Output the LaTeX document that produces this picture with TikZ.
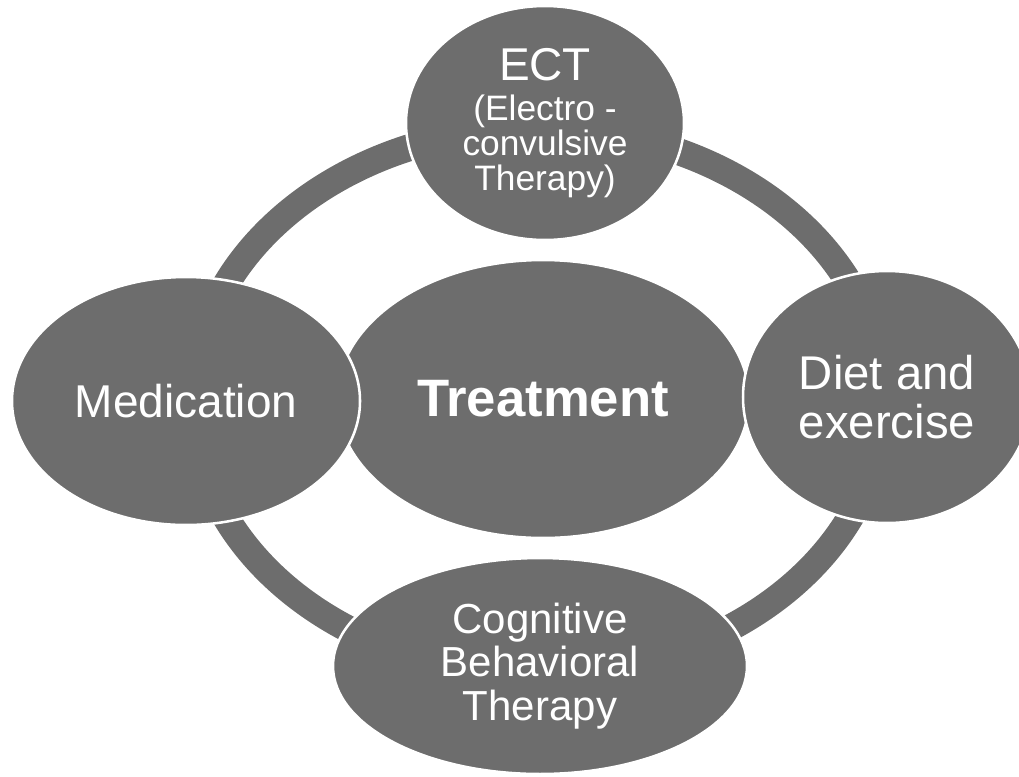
\documentclass[tikz,border=0pt]{standalone}
\usepackage{fontspec}
\setmainfont{Liberation Sans}
\usetikzlibrary{shapes.geometric}
\definecolor{blobgray}{HTML}{6D6D6D}
\tikzset{
  ring/.style={draw=blobgray, line width=20.25pt},
  blob/.style={ellipse, fill=blobgray, draw=white, line width=1.9pt,
               inner sep=0pt, text=white, align=center},
  bigtext/.style={font=\fontsize{34.5pt}{35.7pt}\selectfont},
}
\begin{document}
\begin{tikzpicture}[x=0.75pt, y=-0.75pt]
  \useasboundingbox (0,0) rectangle (1019,776);
  % ring linking the outer ellipses
  \coordinate (ringc) at (538,401);
  \draw[ring] (ringc) ellipse [x radius=345, y radius=273];
  % central ellipse
  \node[blob, minimum width=309pt, minimum height=208.5pt,
        font=\bfseries\fontsize{39.5pt}{41pt}\selectfont] (treat) at (543,399) {Treatment};
  % outer ellipses
  \node[blob, bigtext, minimum width=208.5pt, minimum height=175.5pt,
        font=\fontsize{26.5pt}{26.25pt}\selectfont] (ect) at (545,123)
        {{\fontsize{34.5pt}{35pt}\selectfont ECT}\\[3.75pt](Electro -\\convulsive\\Therapy)};
  \node[blob, bigtext, minimum width=261pt, minimum height=186pt] (med) at (186,401) {Medication};
  \node[blob, bigtext, minimum width=216pt, minimum height=189pt,
        font=\fontsize{35.5pt}{36.3pt}\selectfont] (diet) at (887,397) {Diet and\\exercise};
  \node[blob, minimum width=310.5pt, minimum height=162pt,
        font=\fontsize{31.5pt}{32.4pt}\selectfont] (cbt) at (540,666) {Cognitive\\Behavioral\\Therapy};
\end{tikzpicture}
\end{document}
